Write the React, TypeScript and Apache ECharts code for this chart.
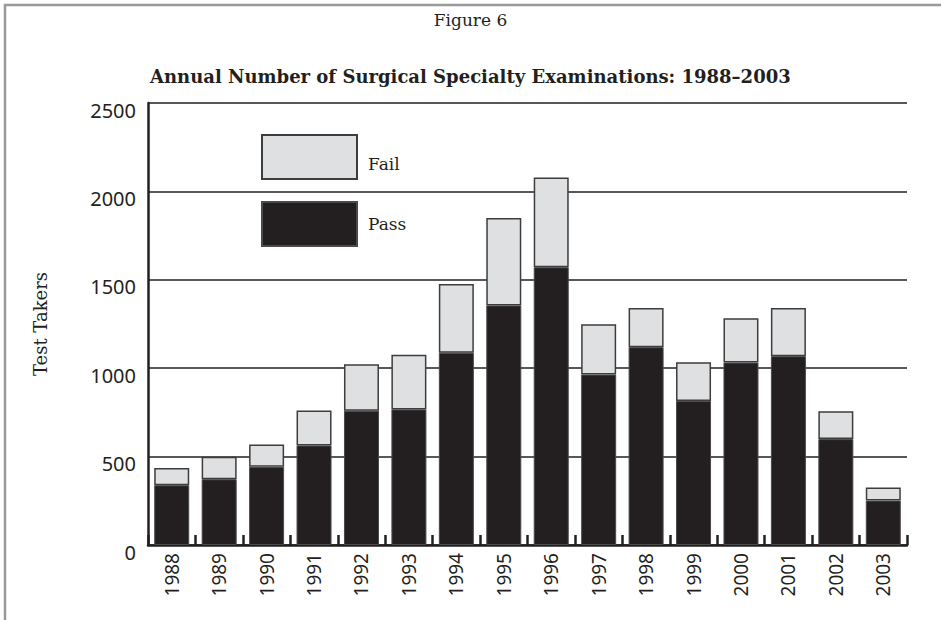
import React, { useEffect, useRef } from "react";
import * as echarts from "echarts";

const years = ["1988", "1989", "1990", "1991", "1992", "1993", "1994", "1995", "1996", "1997", "1998", "1999", "2000", "2001", "2002", "2003"];
const passValues = [338, 372, 442, 563, 760, 767, 1088, 1355, 1571, 964, 1119, 815, 1032, 1068, 599, 251];
const failValues = [97, 127, 127, 198, 262, 309, 388, 495, 508, 285, 221, 219, 251, 272, 157, 74];
const yTicks = { min: 0, max: 2500, interval: 500 };

const INK = "#231f20";
const SLAB = "DejaVu Serif";
const SANS = "Noto Sans";

export default function App() {
  const ref = useRef<HTMLDivElement>(null);
  useEffect(() => {
    if (!ref.current) return;
    const chart = echarts.init(ref.current, undefined, { renderer: "svg" });
    chart.setOption({
      animation: false,
      backgroundColor: "#ffffff",
      title: [
        {
          text: "Figure 6",
          left: "center",
          top: 11,
          padding: 0,
          textStyle: { fontFamily: SLAB, fontWeight: "normal", fontSize: 17, color: INK },
        },
        {
          text: "Annual Number of Surgical Specialty Examinations: 1988–2003",
          left: 150,
          top: 67,
          padding: 0,
          textStyle: { fontFamily: SLAB, fontWeight: "bold", fontSize: 18, color: INK },
        },
      ],
      graphic: [
        {
          type: "polyline",
          shape: { points: [[5, 640], [5, 5], [960, 5]] },
          style: { stroke: "#999999", lineWidth: 2.5, fill: "none" },
          silent: true,
        },
      ],
      legend: {
        orient: "vertical",
        left: 261,
        top: 134,
        padding: 0,
        itemWidth: 95,
        itemHeight: 44,
        itemGap: 21,
        icon: "rect",
        data: ["Fail", "Pass"],
        formatter: (name: string) => (name === "Fail" ? "{f|Fail}" : "{p|Pass}"),
        textStyle: {
          fontFamily: SLAB,
          fontSize: 17,
          color: INK,
          rich: {
            f: { fontFamily: SLAB, fontSize: 17, color: INK, padding: [14, 0, 0, 6] },
            p: { fontFamily: SLAB, fontSize: 17, color: INK, padding: [0, 0, 0, 6] },
          },
        },
      },
      grid: { left: 148, right: 34, top: 103, bottom: 75, containLabel: false },
      xAxis: {
        type: "category",
        data: years,
        boundaryGap: true,
        axisLine: { show: true, lineStyle: { color: INK, width: 2.5 } },
        axisTick: { show: true, inside: true, length: 10, alignWithLabel: false, lineStyle: { color: INK, width: 2.5 } },
        axisLabel: { rotate: 90, margin: 8, fontFamily: SANS, fontSize: 19, color: INK, interval: 0 },
        splitLine: { show: false },
      },
      yAxis: {
        type: "value",
        min: yTicks.min,
        max: yTicks.max,
        interval: yTicks.interval,
        name: "Test Takers",
        nameLocation: "middle",
        nameRotate: 90,
        nameGap: 99,
        nameTextStyle: { fontFamily: SLAB, fontSize: 18, color: INK },
        axisLine: { show: true, lineStyle: { color: INK, width: 2.5 } },
        axisTick: { show: false },
        axisLabel: {
          margin: 12,
          color: INK,
          formatter: (v: number) => `{a|${v}}`,
          rich: {
            a: { fontFamily: SANS, fontSize: 20, color: INK, padding: [14, 0, 0, 0] },
          },
        },
        splitLine: { show: true, lineStyle: { color: INK, width: 1.5 } },
      },
      series: [
        {
          name: "Pass",
          type: "bar",
          stack: "total",
          barWidth: 35,
          data: passValues,
          itemStyle: { color: INK, borderColor: "#4a4a4a", borderWidth: 1 },
        },
        {
          name: "Fail",
          type: "bar",
          stack: "total",
          barWidth: 35,
          data: failValues,
          itemStyle: { color: "#dfe0e2", borderColor: "#3d3d3d", borderWidth: 1.5 },
        },
      ],
    });
    return () => chart.dispose();
  }, []);
  return (
    <div
      ref={ref}
      style={{ position: "fixed", left: 0, top: 0, width: 941, height: 620, background: "#fff" }}
    />
  );
}
